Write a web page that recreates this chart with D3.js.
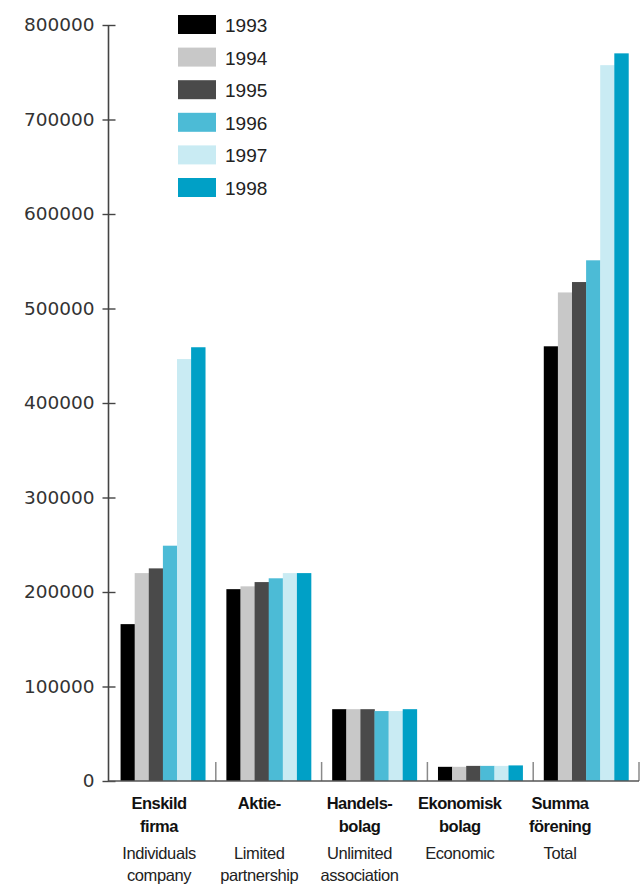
<!DOCTYPE html>
<html>
<head>
<meta charset="utf-8">
<script src="https://cdn.jsdelivr.net/npm/d3@7"></script>
<style>
  html, body { margin: 0; padding: 0; background: #fff; }
  svg { display: block; }
</style>
</head>
<body>
<svg id="chart" width="643" height="893"></svg>
<script>
const categories = ["Enskild firma", "Aktie-", "Handelsbolag", "Ekonomisk bolag", "Summa förening"];
const labelLines = [
  { bold: ["Enskild", "firma"], regular: ["Individuals", "company"] },
  { bold: ["Aktie-", ""], regular: ["Limited", "partnership"] },
  { bold: ["Handels-", "bolag"], regular: ["Unlimited", "association"] },
  { bold: ["Ekonomisk", "bolag"], regular: ["Economic", ""] },
  { bold: ["Summa", "förening"], regular: ["Total", ""] }
];
const years = ["1993", "1994", "1995", "1996", "1997", "1998"];
const v1993 = [166000, 203000, 76000, 15000, 460000];
const v1994 = [220000, 206000, 76000, 15000, 517000];
const v1995 = [225000, 210500, 76000, 16000, 528000];
const v1996 = [249000, 214500, 74000, 16000, 551000];
const v1997 = [446500, 220000, 74000, 16000, 757500];
const v1998 = [459000, 220000, 76000, 16500, 770000];
const seriesValues = [v1993, v1994, v1995, v1996, v1997, v1998];
const colors = ["#000000", "#c8c8c8", "#4a4a4a", "#4cbbd6", "#c9ebf3", "#00a0c6"];
const yTicks = [0, 100000, 200000, 300000, 400000, 500000, 600000, 700000, 800000];

const svg = d3.select("#chart");
const axisX = 108.5, baseY = 781, topY = 25, rightX = 639;

const y = d3.scaleLinear().domain([0, 800000]).range([baseY, topY]);
const x0 = d3.scaleBand().domain(categories).range([110, rightX]).paddingInner(0.2).paddingOuter(0.1);
const x1 = d3.scaleBand().domain(years).range([0, x0.bandwidth()]).padding(0);
const xl = d3.scalePoint().domain(categories).range([159, 560]);
const color = d3.scaleOrdinal().domain(years).range(colors);

// bars
const rows = [];
categories.forEach((c, i) => years.forEach((yr, j) => rows.push({ c, yr, v: seriesValues[j][i] })));
svg.append("g").selectAll("rect").data(rows).join("rect")
  .attr("x", d => x0(d.c) + x1(d.yr))
  .attr("width", x1.bandwidth() + 0.3)
  .attr("y", d => y(d.v))
  .attr("height", d => baseY - y(d.v))
  .attr("fill", d => color(d.yr));

// category separators
const seps = categories.map(c => x0(c) + x0.bandwidth() + x0.step() * 0.1);
svg.append("g").selectAll("line").data(seps).join("line")
  .attr("x1", d => d).attr("x2", d => d)
  .attr("y1", baseY - 19).attr("y2", baseY)
  .attr("stroke", "#8a8a8a").attr("stroke-width", 1.5);

// y axis
const yAxis = d3.axisLeft(y).tickValues(yTicks).tickFormat(d3.format("d")).tickSize(0).tickPadding(14);
const gy = svg.append("g").attr("transform", `translate(${axisX},0)`).call(yAxis);
gy.select(".domain").remove();
gy.selectAll(".tick text")
  .attr("font-family", "DejaVu Sans")
  .attr("font-size", 18.5)
  .attr("fill", "#333");
gy.selectAll(".tick").append("line")
  .attr("x1", -6).attr("x2", 7)
  .attr("stroke", "#444").attr("stroke-width", 1.4);
svg.append("line")
  .attr("x1", axisX).attr("x2", axisX)
  .attr("y1", topY).attr("y2", baseY)
  .attr("stroke", "#444").attr("stroke-width", 1.6);
svg.append("line")
  .attr("x1", axisX).attr("x2", rightX)
  .attr("y1", baseY).attr("y2", baseY)
  .attr("stroke", "#555").attr("stroke-width", 1.6);

// x labels
const gl = svg.append("g").attr("text-anchor", "middle");
categories.forEach((c, i) => {
  const cx = xl(c);
  const L = labelLines[i];
  [809, 832].forEach((yy, k) => {
    if (L.bold[k]) gl.append("text").attr("x", cx).attr("y", yy)
      .attr("font-family", "Liberation Sans").attr("font-weight", "bold")
      .attr("font-size", 16.5).attr("letter-spacing", -0.5).attr("fill", "#111")
      .text(L.bold[k]);
  });
  [859, 881].forEach((yy, k) => {
    if (L.regular[k]) gl.append("text").attr("x", cx).attr("y", yy)
      .attr("font-family", "Liberation Sans")
      .attr("font-size", 16.5).attr("letter-spacing", -0.4).attr("fill", "#222")
      .text(L.regular[k]);
  });
});

// legend
const legY = d3.scalePoint().domain(years).range([24.5, 187.5]);
const lg = svg.append("g").selectAll("g").data(years).join("g")
  .attr("transform", d => `translate(178,${legY(d)})`);
lg.append("rect").attr("x", 0).attr("y", -9.5).attr("width", 38).attr("height", 19)
  .attr("fill", d => color(d));
lg.append("text").attr("x", 47).attr("y", 7.5)
  .attr("font-family", "Liberation Sans").attr("font-size", 19).attr("fill", "#222")
  .text(d => d);
</script>
</body>
</html>
